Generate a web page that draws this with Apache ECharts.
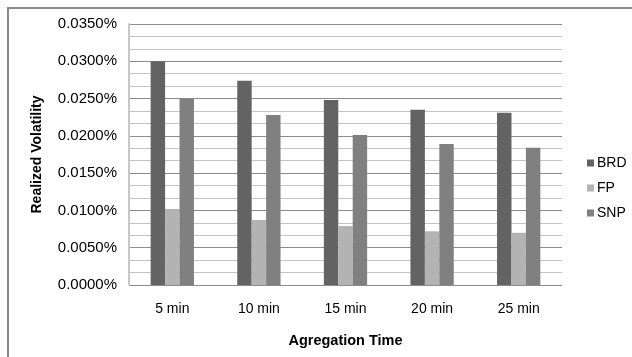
<!DOCTYPE html>
<html>
<head>
<meta charset="utf-8">
<script src="https://cdn.jsdelivr.net/npm/echarts@6/dist/echarts.min.js"></script>
<style>
html,body{margin:0;padding:0;background:#fff;}
#c{width:632px;height:357px;}
</style>
</head>
<body>
<div id="c"></div>
<script>
// Values are in percent units (0.0300 means 0.0300%)
const categories = ['5 min', '10 min', '15 min', '20 min', '25 min'];
const seriesNames = ['BRD', 'FP', 'SNP'];
const brd = [0.0300, 0.0274, 0.0248, 0.0235, 0.0231];
const fp = [0.0102, 0.0087, 0.0079, 0.0072, 0.0070];
const snp = [0.0250, 0.0228, 0.0201, 0.0189, 0.0184];
const colors = ['#636363', '#b3b3b3', '#808080'];

const chart = echarts.init(document.getElementById('c'), null, {renderer: 'canvas'});
const font = 'Liberation Sans, Arial, sans-serif';
const data = [brd, fp, snp];
chart.setOption({
  animation: false,
  backgroundColor: '#fff',
  graphic: [{
    type: 'rect',
    shape: {x: 8, y: 8, width: 700, height: 400},
    style: {fill: 'none', stroke: '#8a8a8a', lineWidth: 2},
    silent: true
  }],
  grid: {left: 129, right: 70, top: 24, bottom: 72, containLabel: false},
  legend: {
    orient: 'vertical',
    left: 582,
    top: 151,
    itemWidth: 7,
    itemHeight: 7,
    itemGap: 11,
    icon: 'rect',
    textStyle: {fontFamily: font, fontSize: 14, color: '#000', padding: [0, 0, 0, -2]},
    data: seriesNames
  },
  xAxis: {
    type: 'category',
    data: categories,
    name: 'Agregation Time',
    nameLocation: 'middle',
    nameGap: 48,
    nameTextStyle: {fontFamily: font, fontSize: 14.5, fontWeight: 'bold', color: '#000'},
    axisLine: {show: false},
    axisTick: {show: false},
    axisLabel: {fontFamily: font, fontSize: 14, color: '#000', margin: 17}
  },
  yAxis: {
    type: 'value',
    min: 0,
    max: 0.035,
    interval: 0.005,
    name: 'Realized Volatility',
    nameLocation: 'middle',
    nameGap: 85,
    nameTextStyle: {fontFamily: font, fontSize: 14, fontWeight: 'bold', color: '#000'},
    axisLine: {show: true, lineStyle: {color: '#c8c8c8', width: 2}},
    axisTick: {show: false},
    axisLabel: {
      fontFamily: font, fontSize: 15, color: '#000', margin: 12,
      formatter: v => v.toFixed(4) + '%'
    },
    splitLine: {show: true, lineStyle: {color: '#8c8c8c', width: 1}},
    minorTick: {show: false, splitNumber: 3},
    minorSplitLine: {show: true, lineStyle: {color: '#c4c4c4', width: 1}}
  },
  series: seriesNames.map((n, i) => ({
    name: n,
    type: 'bar',
    data: data[i],
    barGap: '0%',
    barCategoryGap: '50%',
    itemStyle: {color: colors[i]}
  }))
});
</script>
</body>
</html>
